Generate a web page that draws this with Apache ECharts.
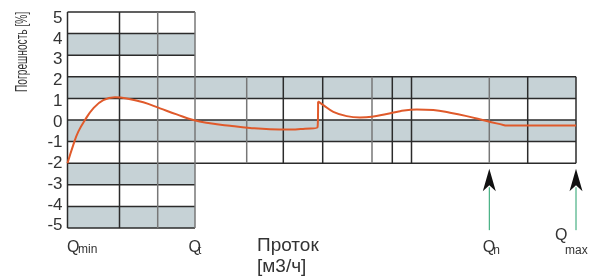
<!DOCTYPE html>
<html>
<head>
<meta charset="utf-8">
<script src="https://cdn.jsdelivr.net/npm/echarts@6/dist/echarts.min.js"></script>
<style>
  html, body { margin: 0; padding: 0; background: #fff; }
  #chart { width: 594px; height: 278px; }
</style>
</head>
<body>
<div id="chart"></div>
<script>
// axis values
const yTicks = [5, 4, 3, 2, 1, 0, -1, -2, -3, -4, -5]
// column edges along the flow axis (arbitrary units)
const colEdges = [0, 52, 90.2, 127.5, 179.2, 215.8, 255.2, 304.5, 324.8, 344, 421.8, 460.2, 508.5]
const lightCols = [90.2, 127.5, 179.2, 304.5, 421.8]
const xQt = 127.5
const xEnd = 508.5
// shaded tolerance bands [from, to]
const bandsWide = [[1, 2], [-1, 0]]
const bandsNarrow = [[3, 4], [-3, -2], [-5, -4]]

// error curve, before the step (ends on the step itself)
const errX1 = [0, 5.8, 10.8, 17.5, 25.8, 35.8, 47.5, 59.2, 75.8, 92.5, 109.2, 125.8,
  142.5, 162.5, 182.5, 202.5, 222.5, 237.5, 250, 250.6]
const errY1 = [-2, -1.15, -0.54, 0, 0.54, 0.92, 1.05, 1.0, 0.82, 0.54, 0.26, 0,
  -0.15, -0.27, -0.37, -0.43, -0.44, -0.4, -0.34, 0.86]
// error curve, after the step
const errX2 = [250.6, 255.8, 265.8, 279.2, 292.5, 304.2, 319.2, 332.5, 349.2, 365.8,
  382.5, 399.2, 419.2, 435.8, 438.5, 508.5]
const errY2 = [0.86, 0.69, 0.38, 0.18, 0.12, 0.15, 0.28, 0.41, 0.49, 0.46,
  0.34, 0.18, -0.05, -0.23, -0.26, -0.26]

// arrows at Qn and Qmax
const arrowX = [421.8, 508.5]
const arrowTip = -2.26
const arrowBase = -3.3
const arrowFoot = -5.1

// flow labels
const qX = [0, 127.5, 421.8, 508.5]
const qSub = ['min', 't', 'n', 'max']

const FONT = 'Liberation Sans, Arial, sans-serif'

const bandData = []
bandsWide.forEach(b => bandData.push([0, xEnd, b[0], b[1]]))
bandsNarrow.forEach(b => bandData.push([0, xQt, b[0], b[1]]))

const lineData = []
yTicks.forEach(y => {
  lineData.push([0, y, Math.abs(y) <= 2 ? xEnd : xQt, y, 0])
})
colEdges.forEach(x => {
  const light = lightCols.includes(x) ? 1 : 0
  if (x <= xQt) lineData.push([x, -5, x, 5, light])
  else lineData.push([x, -2, x, 2, light])
})

const curveStyle = {
  type: 'line',
  z: 3,
  showSymbol: false,
  smooth: 0.45,
  lineStyle: { color: '#e05a2b', width: 2 }
}

const chart = echarts.init(document.getElementById('chart'))
chart.setOption({
  animation: false,
  grid: { left: 67.5, right: 18, top: 12, bottom: 50 },
  xAxis: {
    type: 'value',
    min: 0,
    max: xEnd,
    axisLine: { show: false },
    axisTick: { show: false },
    splitLine: { show: false },
    axisLabel: { show: false }
  },
  yAxis: [
    {
      type: 'value',
      min: -5,
      max: 5,
      interval: 1,
      axisLine: { show: false },
      axisTick: { show: false },
      splitLine: { show: false },
      axisLabel: { show: false }
    },
    {
      // the printed tick labels sit on a slightly tighter scale than the grid
      type: 'value',
      position: 'left',
      min: -5.106,
      max: 5.3,
      axisLine: { show: false },
      axisTick: { show: false },
      splitLine: { show: false },
      axisLabel: {
        customValues: yTicks,
        margin: 5,
        fontSize: 17,
        color: '#333',
        fontFamily: FONT
      }
    }
  ],
  graphic: [
    {
      type: 'text',
      x: 14,
      y: 92,
      rotation: Math.PI / 2,
      scaleX: 0.6,
      style: {
        text: 'Погрешность [%]',
        fontSize: 17,
        fontFamily: FONT,
        fill: '#333',
        align: 'left',
        verticalAlign: 'top'
      }
    },
    {
      type: 'text',
      x: 257,
      y: 246,
      style: { text: 'Проток', fontSize: 19, fontFamily: FONT, fill: '#333', verticalAlign: 'middle' }
    },
    {
      type: 'text',
      x: 257,
      y: 267,
      style: { text: '[м3/ч]', fontSize: 19, fontFamily: FONT, fill: '#333', verticalAlign: 'middle' }
    }
  ],
  series: [
    {
      name: 'bands',
      type: 'custom',
      z: 1,
      silent: true,
      data: bandData,
      renderItem: (params, api) => {
        const p0 = api.coord([api.value(0), api.value(3)])
        const p1 = api.coord([api.value(1), api.value(2)])
        return {
          type: 'rect',
          shape: { x: p0[0], y: p0[1], width: p1[0] - p0[0], height: p1[1] - p0[1] },
          style: { fill: '#c6d2d6' }
        }
      }
    },
    {
      name: 'gridlines',
      type: 'custom',
      z: 2,
      silent: true,
      data: lineData,
      renderItem: (params, api) => {
        const p0 = api.coord([api.value(0), api.value(1)])
        const p1 = api.coord([api.value(2), api.value(3)])
        return {
          type: 'line',
          shape: { x1: p0[0], y1: p0[1], x2: p1[0], y2: p1[1] },
          style: { stroke: api.value(4) ? '#777' : '#2b2b2b', lineWidth: 1.5 }
        }
      }
    },
    Object.assign({ name: 'error1', data: errX1.map((x, i) => [x, errY1[i]]) }, curveStyle),
    Object.assign({ name: 'error2', data: errX2.map((x, i) => [x, errY2[i]]) }, curveStyle),
    {
      name: 'arrows',
      type: 'custom',
      z: 3,
      silent: true,
      data: arrowX.map(x => [x, arrowTip, arrowBase, arrowFoot]),
      renderItem: (params, api) => {
        const tip = api.coord([api.value(0), api.value(1)])
        const base = api.coord([api.value(0), api.value(2)])
        const foot = api.coord([api.value(0), api.value(3)])
        const x = tip[0]
        return {
          type: 'group',
          children: [
            {
              type: 'line',
              shape: { x1: x, y1: base[1] - 4, x2: x, y2: foot[1] },
              style: { stroke: '#22a06b', lineWidth: 1 }
            },
            {
              type: 'polygon',
              shape: { points: [[x, tip[1]], [x + 6.5, base[1]], [x, base[1] - 6], [x - 6.5, base[1]]] },
              style: { fill: '#111' }
            }
          ]
        }
      }
    },
    {
      name: 'qlabels',
      type: 'custom',
      z: 3,
      silent: true,
      data: qX.map((x, i) => [x, -5, i]),
      renderItem: (params, api) => {
        const p = api.coord([api.value(0), api.value(1)])
        const i = api.value(2)
        const isMax = qSub[i] === 'max'
        const qOff = i === 0 ? [-0.5, 19.5] : isMax ? [-21, 8] : [-6.6, 19.5]
        const sOff = i === 0 ? [10.5, 22] : isMax ? [-11, 23] : [i === 1 ? 3 : 4, 22.5]
        return {
          type: 'group',
          children: [
            {
              type: 'text',
              x: p[0] + qOff[0],
              y: p[1] + qOff[1],
              style: { text: 'Q', fontSize: 16, fill: '#333', fontFamily: FONT, verticalAlign: 'middle' }
            },
            {
              type: 'text',
              x: p[0] + sOff[0],
              y: p[1] + sOff[1],
              style: { text: qSub[i], fontSize: 12, fill: '#333', fontFamily: FONT, verticalAlign: 'middle' }
            }
          ]
        }
      }
    }
  ]
})
</script>
</body>
</html>
